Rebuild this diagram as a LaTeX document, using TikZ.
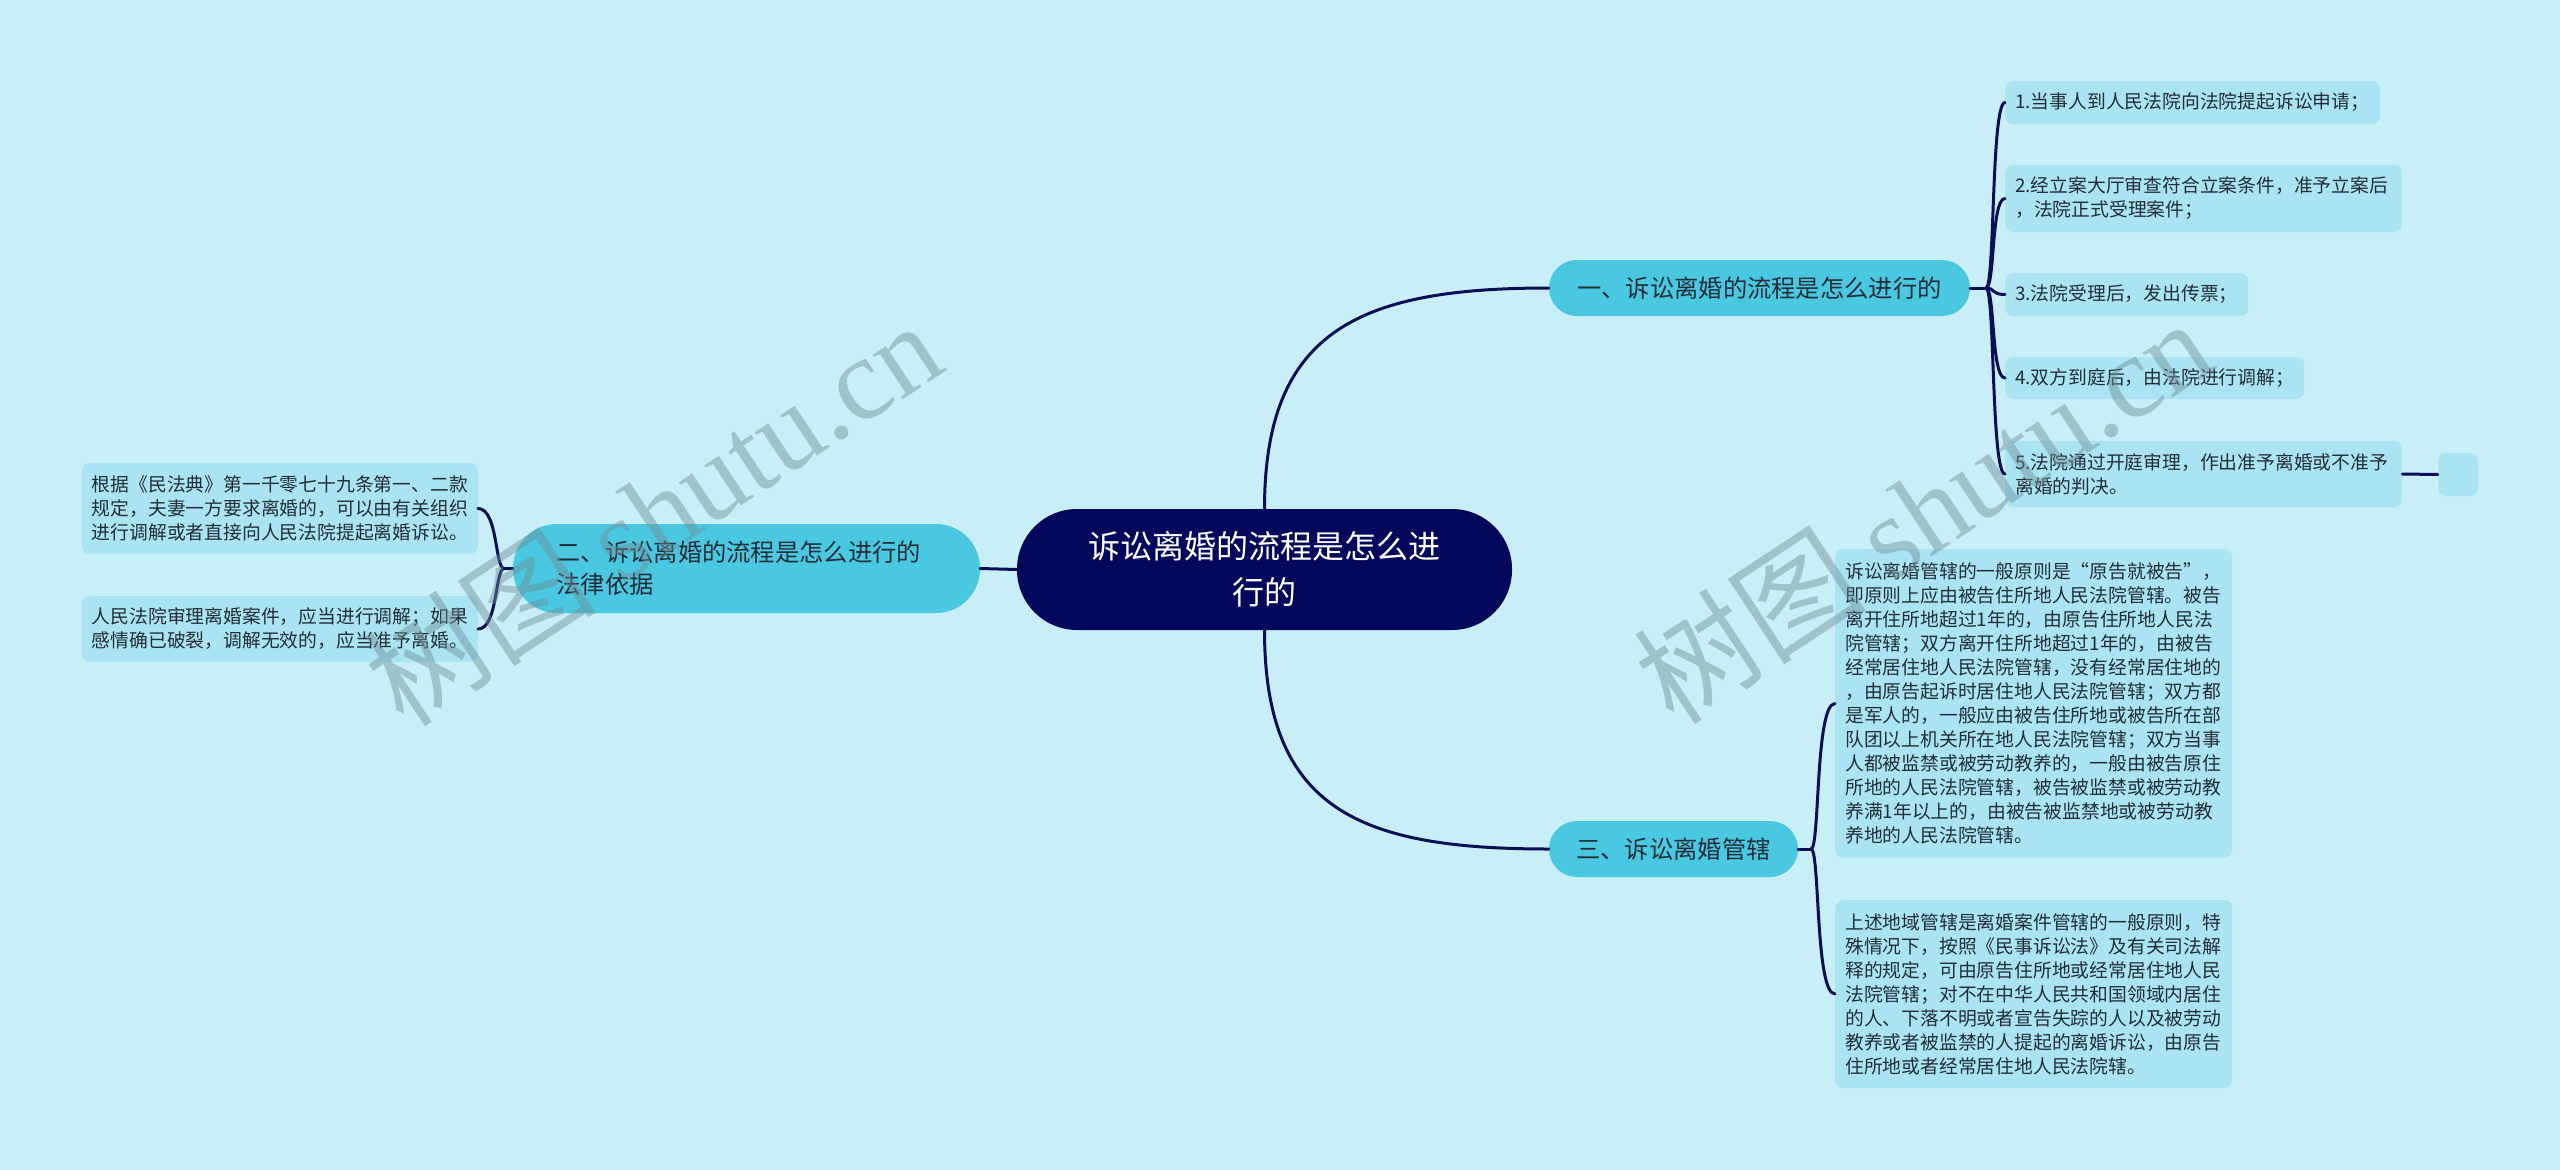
\documentclass[tikz,border=0pt]{standalone}
\usepackage{fontspec}
\setmainfont{Noto Sans CJK SC}
\newfontfamily\wmlat{Liberation Serif}
\definecolor{bgc}{RGB}{200,239,247}
\definecolor{leafc}{RGB}{170,228,243}
\definecolor{pillc}{RGB}{74,200,225}
\definecolor{centerc}{RGB}{4,8,92}
\definecolor{linec}{RGB}{10,15,85}
\definecolor{txtc}{RGB}{35,45,55}
\definecolor{wmc}{RGB}{110,140,150}
\begin{document}
\begin{tikzpicture}[x=1pt,y=-1pt,
  leafbox/.style={fill=leafc, rounded corners=8pt, anchor=west, inner xsep=10pt, inner ysep=0pt,
    align=left, text=txtc, font=\fontsize{18.8}{24}\selectfont},
  pillbox/.style={fill=pillc, text=txtc, inner sep=0pt, font=\fontsize{24.3}{32}\selectfont},
  conn/.style={draw=linec, line width=3pt, line cap=round},
  wmark/.style={text=wmc, opacity=0.45, font=\fontsize{117}{117}\selectfont, inner sep=0pt}]
\fill[bgc] (0,0) rectangle (2560,1170);

% center
\node[fill=centerc, text=white, rounded corners=60pt, minimum width=495pt, minimum height=121pt,
  inner sep=0pt, text width=360pt, align=center, font=\fontsize{32}{46}\selectfont]
  (c) at (1264.5,569.5) {诉讼离婚的流程是怎么进\\行的};

% branches
\node[pillbox, rounded corners=27.9pt, minimum width=421pt, minimum height=56pt]
  (b1) at (1759.5,288) {一、诉讼离婚的流程是怎么进行的};
\node[pillbox, rounded corners=27.9pt, minimum width=249pt, minimum height=56pt]
  (b3) at (1673.5,849) {三、诉讼离婚管辖};
\node[pillbox, rounded corners=44pt, minimum width=467pt, minimum height=89pt,
  text width=380pt, inner xsep=43.5pt, align=left]
  (b2) at (746.5,568.5) {二、诉讼离婚的流程是怎么进行的\\法律依据};

% right leaves of branch 1
\node[leafbox, text width=355pt, minimum height=43pt] (l1) at (2005,102.5) {1.当事人到人民法院向法院提起诉讼申请；};
\node[leafbox, text width=377pt, minimum height=67pt] (l2) at (2005,198.5) {2.经立案大厅审查符合立案条件，准予立案后\\，法院正式受理案件；};
\node[leafbox, text width=223pt, minimum height=43pt] (l3) at (2005,294.5) {3.法院受理后，发出传票；};
\node[leafbox, text width=279pt, minimum height=42pt] (l4) at (2005,378) {4.双方到庭后，由法院进行调解；};
\node[leafbox, text width=377pt, minimum height=66pt] (l5) at (2005,474) {5.法院通过开庭审理，作出准予离婚或不准予\\离婚的判决。};
\node[fill=leafc, rounded corners=8pt, minimum width=40pt, minimum height=43pt, inner sep=0pt] (e5) at (2458,474.5) {};

% leaves of branch 3
\node[leafbox, text width=377pt, minimum height=309pt] (la) at (1835,703.5) {诉讼离婚管辖的一般原则是“原告就被告”，\\即原则上应由被告住所地人民法院管辖。被告\\离开住所地超过1年的，由原告住所地人民法\\院管辖；双方离开住所地超过1年的，由被告\\经常居住地人民法院管辖，没有经常居住地的\\，由原告起诉时居住地人民法院管辖；双方都\\是军人的，一般应由被告住所地或被告所在部\\队团以上机关所在地人民法院管辖；双方当事\\人都被监禁或被劳动教养的，一般由被告原住\\所地的人民法院管辖，被告被监禁或被劳动教\\养满1年以上的，由被告被监禁地或被劳动教\\养地的人民法院管辖。};
\node[leafbox, text width=377pt, minimum height=188pt] (lb) at (1835,994) {上述地域管辖是离婚案件管辖的一般原则，特\\殊情况下，按照《民事诉讼法》及有关司法解\\释的规定，可由原告住所地或经常居住地人民\\法院管辖；对不在中华人民共和国领域内居住\\的人、下落不明或者宣告失踪的人以及被劳动\\教养或者被监禁的人提起的离婚诉讼，由原告\\住所地或者经常居住地人民法院辖。};

% leaves of branch 2
\node[leafbox, anchor=east, text width=376pt, minimum height=91pt] (ka) at (478,508.5) {根据《民法典》第一千零七十九条第一、二款\\规定，夫妻一方要求离婚的，可以由有关组织\\进行调解或者直接向人民法院提起离婚诉讼。};
\node[leafbox, anchor=east, text width=376pt, minimum height=66pt] (kb) at (478,629) {人民法院审理离婚案件，应当进行调解；如果\\感情确已破裂，调解无效的，应当准予离婚。};

% junctions
\coordinate (j1) at (1986,288);
\coordinate (j3) at (1811,849);
\coordinate (j2) at (504,568.5);

% main connectors
\draw[conn] (c.north) .. controls (1264.5,330) and (1360,288) .. (b1.west);
\draw[conn] (c.south) .. controls (1264.5,810) and (1360,849) .. (b3.west);
\draw[conn] (b2.east) -- (c.west);

% branch 1 fan
\draw[conn] (b1.east) -- (j1);
\foreach \n/\yy in {l1/102.5,l2/198.5,l3/294.5,l4/378,l5/474}{
  \draw[conn] (j1) .. controls (1995,288) and (1991,\yy) .. (\n.west);
}
\draw[conn] (l5.east) -- (e5.west);

% branch 3 fan
\draw[conn] (b3.east) -- (j3);
\draw[conn] (j3) .. controls (1820,849) and (1815,703.5) .. (la.west);
\draw[conn] (j3) .. controls (1820,849) and (1815,994) .. (lb.west);

% branch 2 fan
\draw[conn] (b2.west) -- (j2);
\draw[conn] (j2) .. controls (495,568.5) and (498,508.5) .. (ka.east);
\draw[conn] (j2) .. controls (495,568.5) and (498,629) .. (kb.east);

% watermarks
\node[wmark, rotate=33.5] (w1) at (652,512) {树图 {\wmlat shutu.cn}};
\node[wmark, rotate=33.5] (w2) at (1922,510) {树图 {\wmlat shutu.cn}};
\end{tikzpicture}
\end{document}
